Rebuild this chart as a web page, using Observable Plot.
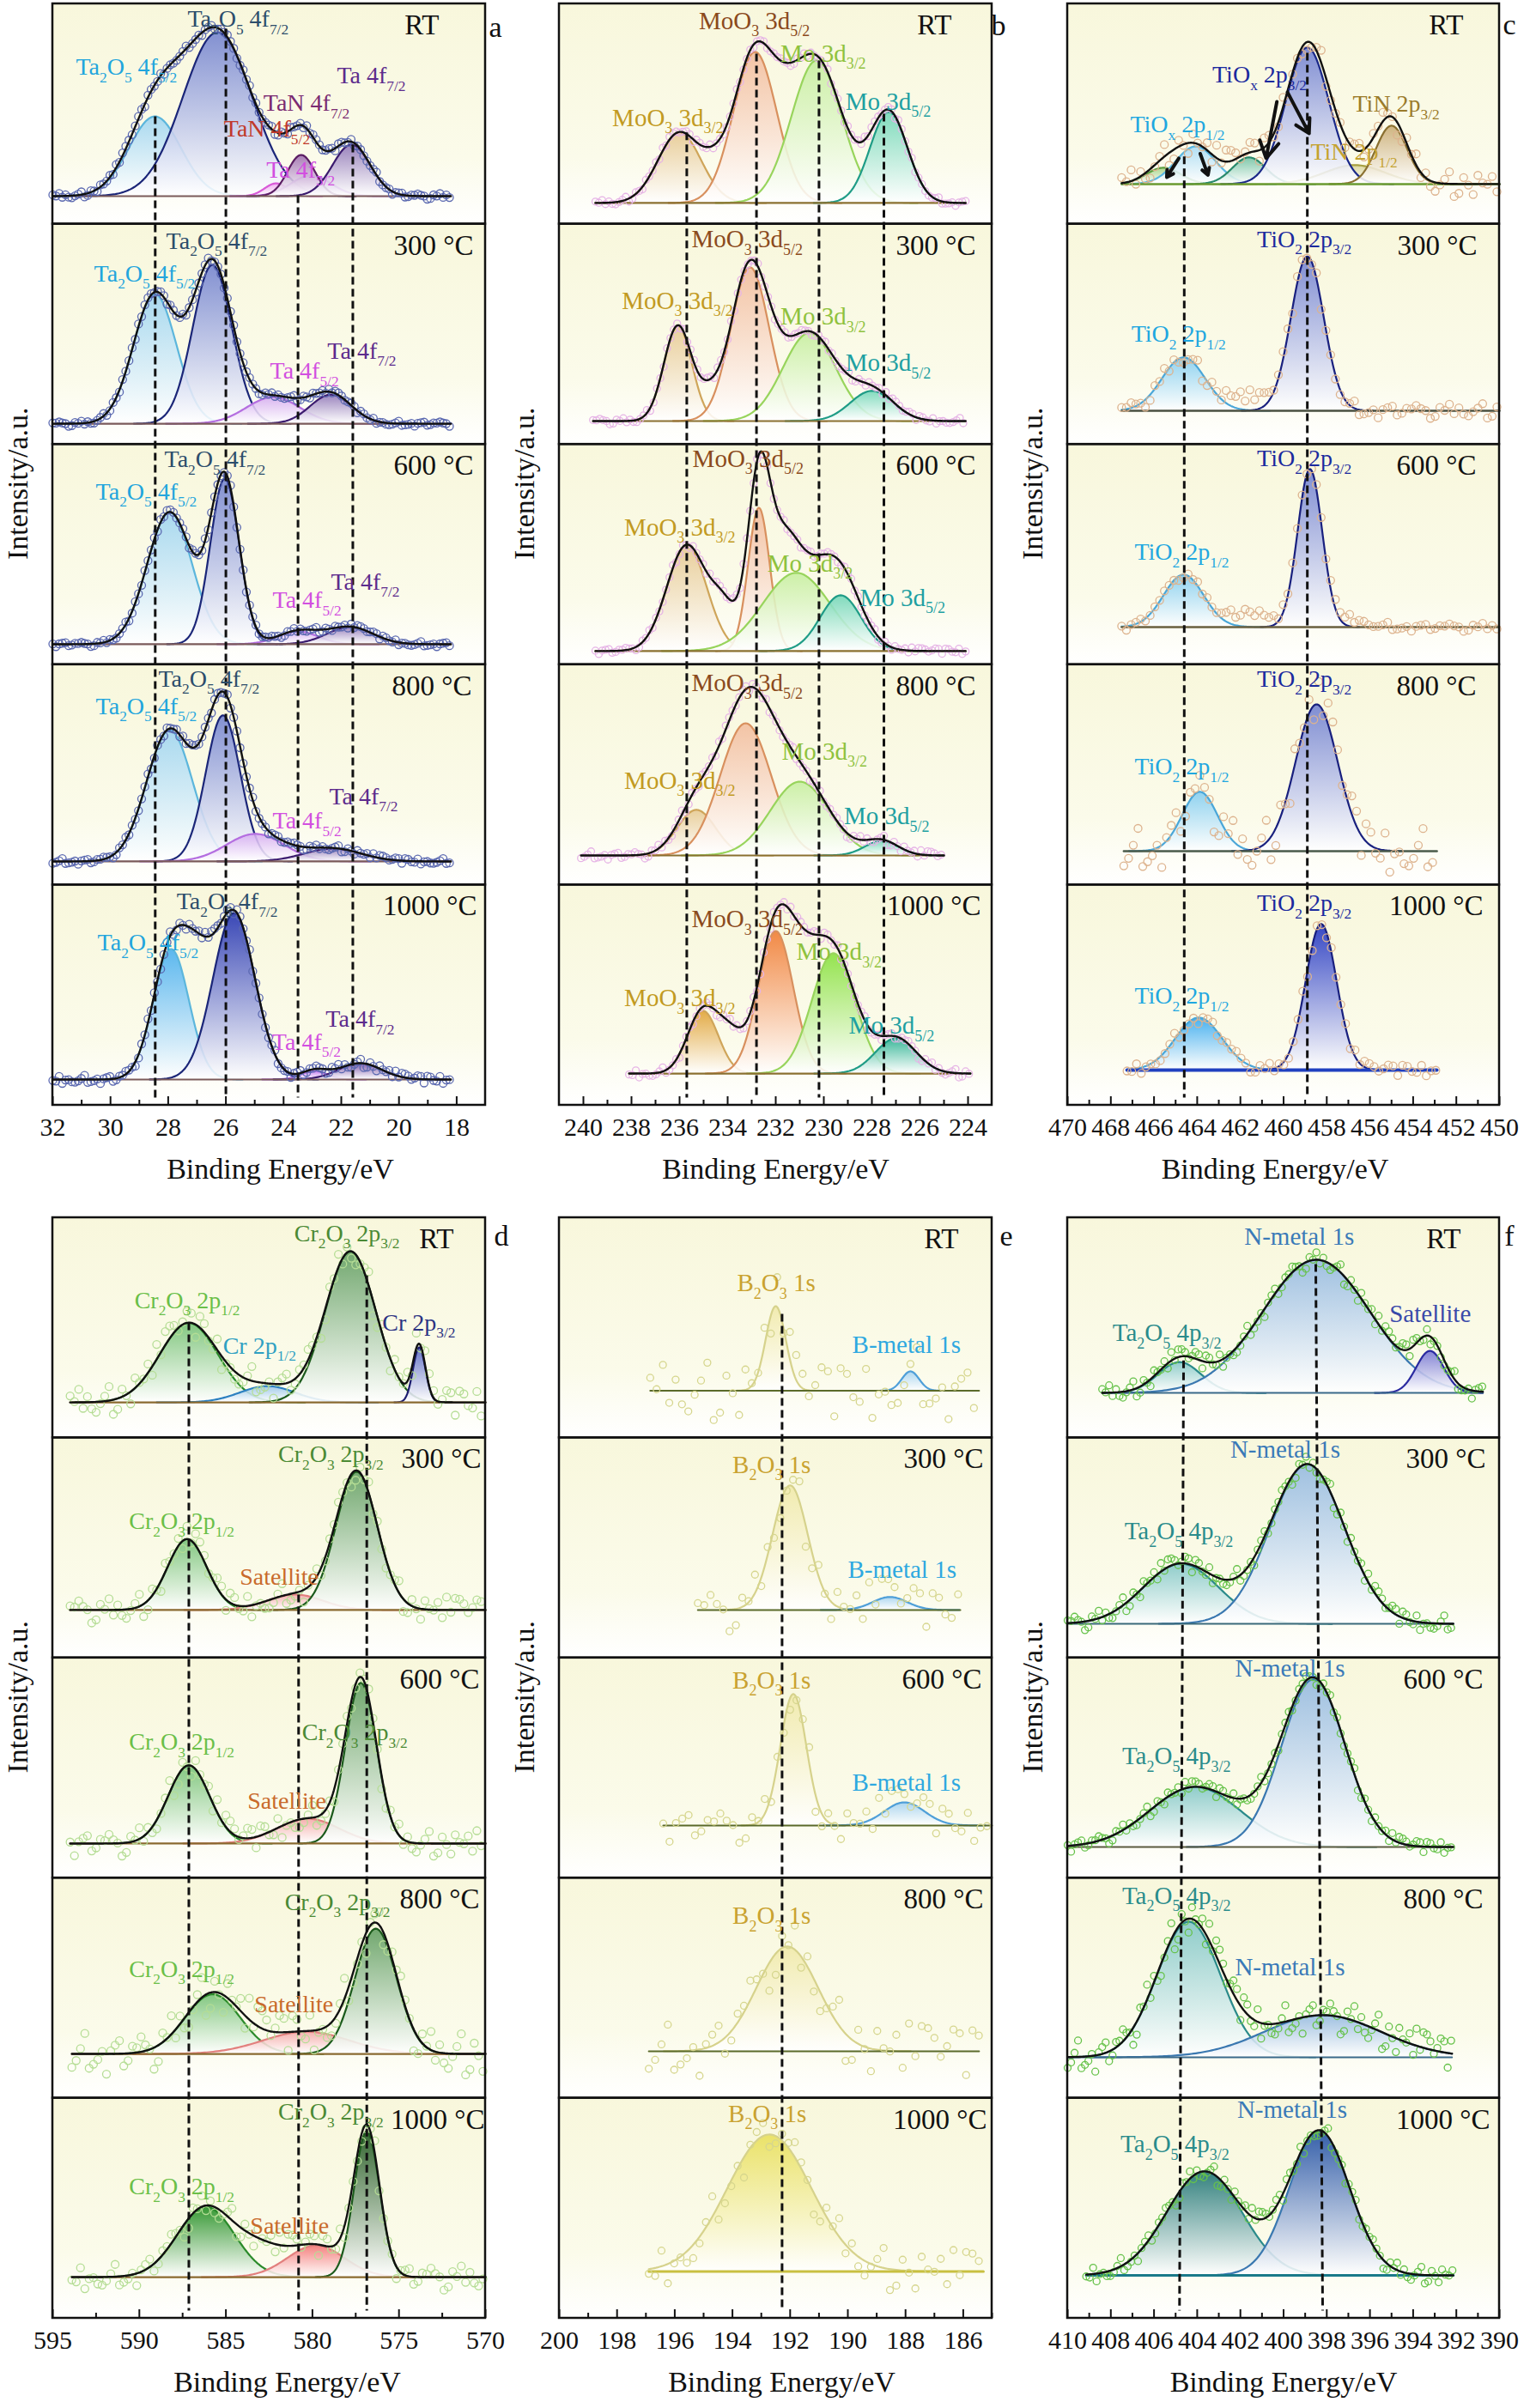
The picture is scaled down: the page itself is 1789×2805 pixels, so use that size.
<!DOCTYPE html>
<html>
<head>
<meta charset="utf-8">
<script src="https://cdn.jsdelivr.net/npm/d3@7"></script>
<script src="https://cdn.jsdelivr.net/npm/@observablehq/plot@0.6"></script>
<style>
html,body{margin:0;padding:0;background:#fff;}
#root{position:relative;width:1789px;height:2805px;overflow:hidden;background:#fff;}
.panel{position:absolute;}
</style>
</head>
<body>
<div id="root"></div>
<script>
const FONT = '"Liberation Serif","Times New Roman",Times,serif';
const temps = ["RT", "300 °C", "600 °C", "800 °C", "1000 °C"];

// ---------- Panel a : Ta 4f ----------
const aTicks = [32, 30, 28, 26, 24, 22, 20, 18];
const aMinor = [31, 29, 27, 25, 23, 21, 19];
const aBases = [0.127, 0.094, 0.093, 0.107, 0.117];
const aRanges = [[32, 18.2], [32, 18.2], [32, 18.2], [32, 18.2], [32, 18.2]];
// [temperature index, component, centre eV, height (fraction of sub-panel), sigma eV]  ("~" = envelope only)
const aPeaks = [
  [0, "Ta2O5 4f5/2", 28.46, 0.362, 0.9],
  [0, "Ta2O5 4f7/2", 26.29, 0.744, 1.2],
  [0, "TaN 4f5/2", 24.26, 0.058, 0.4],
  [0, "Ta 4f5/2", 23.05, 0.094, 0.7],
  [0, "TaN 4f7/2", 23.39, 0.187, 0.47],
  [0, "Ta 4f7/2", 21.65, 0.234, 0.65],
  [1, "Ta2O5 4f5/2", 28.46, 0.588, 0.75],
  [1, "Ta2O5 4f7/2", 26.47, 0.721, 0.68],
  [1, "Ta 4f5/2", 24.36, 0.121, 0.93],
  [1, "Ta 4f7/2", 22.36, 0.132, 0.72],
  [2, "Ta2O5 4f5/2", 27.95, 0.600, 0.78],
  [2, "Ta2O5 4f7/2", 26.04, 0.752, 0.5],
  [2, "Ta 4f5/2", 23.5, 0.058, 0.7],
  [2, "Ta 4f7/2", 21.7, 0.078, 0.8],
  [3, "Ta2O5 4f5/2", 27.95, 0.596, 0.8],
  [3, "Ta2O5 4f7/2", 26.1, 0.663, 0.6],
  [3, "Ta 4f5/2", 24.98, 0.125, 1.0],
  [3, "Ta 4f7/2", 22.3, 0.058, 1.0],
  [4, "Ta2O5 4f5/2", 27.9, 0.592, 0.62],
  [4, "Ta2O5 4f7/2", 25.72, 0.756, 0.73],
  [4, "Ta 4f5/2", 22.94, 0.039, 0.45],
  [4, "Ta 4f7/2", 21.35, 0.074, 0.75],
  [4, "~", 27.0, 0.30, 0.5]
];
// [temperature index, label, eV at label start, height above baseline]
const aLabels = [
  [0, "Ta_2O_5 4f_{7/2}", 27.33, 0.803], [0, "Ta_2O_5 4f_{5/2}", 31.2, 0.585], [0, "Ta 4f_{7/2}", 22.15, 0.546],
  [0, "TaN 4f_{7/2}", 24.7, 0.421], [0, "TaN 4f_{5/2}", 26.07, 0.304], [0, "Ta 4f_{5/2}", 24.6, 0.117],
  [1, "Ta_2O_5 4f_{7/2}", 28.07, 0.83], [1, "Ta_2O_5 4f_{5/2}", 30.57, 0.682], [1, "Ta 4f_{7/2}", 22.48, 0.331], [1, "Ta 4f_{5/2}", 24.47, 0.238],
  [2, "Ta_2O_5 4f_{7/2}", 28.13, 0.838], [2, "Ta_2O_5 4f_{5/2}", 30.51, 0.692], [2, "Ta 4f_{7/2}", 22.36, 0.284], [2, "Ta 4f_{5/2}", 24.38, 0.199],
  [3, "Ta_2O_5 4f_{7/2}", 28.34, 0.828], [3, "Ta_2O_5 4f_{5/2}", 30.51, 0.703], [3, "Ta 4f_{7/2}", 22.42, 0.294], [3, "Ta 4f_{5/2}", 24.38, 0.183],
  [4, "Ta_2O_5 4f_{7/2}", 27.71, 0.807], [4, "Ta_2O_5 4f_{5/2}", 30.45, 0.62], [4, "Ta 4f_{7/2}", 22.54, 0.273], [4, "Ta 4f_{5/2}", 24.4, 0.171]
];
// [eV top, eV bottom, start temperature index, start height]
const aDashes = [[28.45, 28.45, 0, 0.362], [26.0, 26.0, 0, 0.76], [23.5, 23.5, 0, 0.004], [21.6, 21.6, 0, 0.234]];

// ---------- Panel b : Mo 3d ----------
const bTicks = [240, 238, 236, 234, 232, 230, 228, 226, 224];
const bMinor = [239, 237, 235, 233, 231, 229, 227, 225];
const bBases = [0.096, 0.106, 0.062, 0.134, 0.144];
const bRanges = [[239.5, 224.1], [239.6, 224.1], [239.5, 224.1], [240.1, 225.0], [238.1, 223.9]];
const bPeaks = [
  [0, "MoO3 3d3/2", 236.0, 0.32, 0.9],
  [0, "MoO3 3d5/2", 232.86, 0.686, 0.9],
  [0, "Mo 3d3/2", 230.3, 0.647, 1.05],
  [0, "Mo 3d5/2", 227.3, 0.413, 0.78],
  [0, "~", 234.6, 0.06, 0.5],
  [0, "~", 231.5, 0.08, 0.6],
  [1, "MoO3 3d3/2", 236.07, 0.433, 0.58],
  [1, "MoO3 3d5/2", 233.07, 0.698, 0.8],
  [1, "Mo 3d3/2", 230.6, 0.40, 1.1],
  [1, "Mo 3d5/2", 228.0, 0.137, 0.9],
  [1, "~", 234.8, 0.08, 0.45],
  [2, "MoO3 3d3/2", 235.7, 0.48, 0.83],
  [2, "MoO3 3d5/2", 232.7, 0.65, 0.45],
  [2, "Mo 3d3/2", 231.14, 0.355, 1.4],
  [2, "Mo 3d5/2", 229.3, 0.253, 0.85],
  [2, "~", 234.2, 0.14, 0.5],
  [2, "~", 231.7, 0.20, 0.6],
  [3, "MoO3 3d3/2", 235.3, 0.207, 0.8],
  [3, "MoO3 3d5/2", 233.25, 0.60, 1.06],
  [3, "Mo 3d3/2", 231.0, 0.335, 1.23],
  [3, "Mo 3d5/2", 227.6, 0.066, 0.7],
  [3, "~", 232.8, 0.09, 1.2],
  [4, "MoO3 3d3/2", 235.03, 0.285, 0.64],
  [4, "MoO3 3d5/2", 232.0, 0.647, 0.73],
  [4, "Mo 3d3/2", 229.6, 0.546, 0.9],
  [4, "Mo 3d5/2", 227.0, 0.16, 0.85],
  [4, "~", 233.9, 0.15, 0.55],
  [4, "~", 230.9, 0.265, 0.7]
];
const bLabels = [
  [0, "MoO_3 3d_{5/2}", 235.2, 0.826], [0, "MoO_3 3d_{3/2}", 238.8, 0.386], [0, "Mo 3d_{3/2}", 231.8, 0.678], [0, "Mo 3d_{5/2}", 229.1, 0.46],
  [1, "MoO_3 3d_{5/2}", 235.5, 0.826], [1, "MoO_3 3d_{3/2}", 238.4, 0.546], [1, "Mo 3d_{3/2}", 231.8, 0.475], [1, "Mo 3d_{5/2}", 229.1, 0.263],
  [2, "MoO_3 3d_{5/2}", 235.46, 0.873], [2, "MoO_3 3d_{3/2}", 238.3, 0.561], [2, "Mo 3d_{3/2}", 232.35, 0.398], [2, "Mo 3d_{5/2}", 228.5, 0.242],
  [3, "MoO_3 3d_{5/2}", 235.5, 0.783], [3, "MoO_3 3d_{3/2}", 238.3, 0.339], [3, "Mo 3d_{3/2}", 231.75, 0.472], [3, "Mo 3d_{5/2}", 229.16, 0.179],
  [4, "MoO_3 3d_{5/2}", 235.5, 0.701], [4, "MoO_3 3d_{3/2}", 238.3, 0.343], [4, "Mo 3d_{3/2}", 231.14, 0.553], [4, "Mo 3d_{5/2}", 228.96, 0.218]
];
const bDashes = [[235.7, 235.7, 0, 0.32], [232.8, 232.8, 0, 0.678], [230.2, 230.2, 0, 0.647], [227.5, 227.5, 0, 0.405]];

// ---------- Panel c : Ti 2p ----------
const cTicks = [470, 468, 466, 464, 462, 460, 458, 456, 454, 452, 450];
const cMinor = [469, 467, 465, 463, 461, 459, 457, 455, 453, 451];
const cBases = [0.182, 0.153, 0.171, 0.154, 0.16];
const cRanges = [[467.5, 450], [467.5, 450], [467.5, 450], [467.4, 452.9], [467.25, 452.9]];
const cPeaks = [
  [0, "TiOx a", 465.56, 0.074, 0.8],
  [0, "TiOx 2p1/2", 464.07, 0.171, 0.93],
  [0, "TiOx b", 461.6, 0.121, 0.77],
  [0, "TiN 2p1/2", 456.7, 0.086, 1.4],
  [0, "TiOx 2p3/2", 458.9, 0.62, 1.0],
  [0, "TiN 2p3/2", 455.0, 0.265, 0.72],
  [1, "TiO2 2p1/2", 464.63, 0.242, 1.0],
  [1, "TiO2 2p3/2", 458.9, 0.70, 0.76],
  [1, "~", 461.8, 0.06, 0.8],
  [2, "TiO2 2p1/2", 464.63, 0.238, 0.93],
  [2, "TiO2 2p3/2", 458.78, 0.717, 0.57],
  [2, "~", 461.6, 0.07, 0.9],
  [2, "~", 457.0, 0.04, 0.8],
  [3, "TiO2 2p1/2", 463.88, 0.269, 0.82],
  [3, "TiO2 2p3/2", 458.47, 0.666, 0.98],
  [4, "TiO2 2p1/2", 463.93, 0.238, 1.08],
  [4, "TiO2 2p3/2", 458.26, 0.663, 0.72]
];
const cLabels = [
  [0, "TiO_x 2p_{1/2}", 467.1, 0.269], [0, "TiO_x 2p_{3/2}", 463.3, 0.495], [0, "TiN 2p_{3/2}", 456.8, 0.362], [0, "TiN 2p_{1/2}", 458.75, 0.144],
  [1, "TiO_2 2p_{3/2}", 461.23, 0.777], [1, "TiO_2 2p_{1/2}", 467.05, 0.347],
  [2, "TiO_2 2p_{3/2}", 461.23, 0.764], [2, "TiO_2 2p_{1/2}", 466.9, 0.339],
  [3, "TiO_2 2p_{3/2}", 461.23, 0.779], [3, "TiO_2 2p_{1/2}", 466.9, 0.382],
  [4, "TiO_2 2p_{3/2}", 461.23, 0.756], [4, "TiO_2 2p_{1/2}", 466.9, 0.335]
];
// [temperature index, eV tail, height tail, eV head, height head]
const cArrows = [
  [0, 464.85, 0.117, 465.41, 0.031], [0, 463.86, 0.138, 463.5, 0.041],
  [0, 460.31, 0.374, 460.81, 0.117], [0, 459.82, 0.417, 458.82, 0.230]
];
const cDashes = [[464.6, 464.6, 0, 0.125], [458.9, 458.9, 0, 0.596]];

// ---------- Panel d : Cr 2p ----------
const dTicks = [595, 590, 585, 580, 575, 570];
const dMinor = [592.5, 587.5, 582.5, 577.5, 572.5];
const dBases = [0.161, 0.218, 0.157, 0.201, 0.187];
const dRanges = [[594.0, 570], [594.0, 570], [594.0, 570], [593.9, 570], [593.9, 570]];
const dPeaks = [
  [0, "Cr2O3 2p1/2", 587.14, 0.361, 1.68],
  [0, "Cr 2p1/2", 582.6, 0.074, 1.6],
  [0, "Cr2O3 2p3/2", 577.8, 0.686, 1.46],
  [0, "Cr 2p3/2", 573.83, 0.25, 0.36],
  [1, "Cr2O3 2p1/2", 587.24, 0.322, 1.13],
  [1, "Satellite", 581.0, 0.07, 1.6],
  [1, "Cr2O3 2p3/2", 577.45, 0.628, 1.2],
  [2, "Cr2O3 2p1/2", 587.14, 0.355, 1.2],
  [2, "Satellite", 580.26, 0.113, 1.8],
  [2, "Cr2O3 2p3/2", 577.2, 0.73, 0.9],
  [3, "Cr2O3 2p1/2", 585.76, 0.271, 1.6],
  [3, "Satellite", 580.36, 0.101, 2.5],
  [3, "Cr2O3 2p3/2", 576.34, 0.569, 1.2],
  [4, "Cr2O3 2p1/2", 586.15, 0.32, 1.65],
  [4, "Satellite", 579.8, 0.144, 1.65],
  [4, "Cr2O3 2p3/2", 576.86, 0.663, 0.74],
  [4, "~", 583.0, 0.10, 1.3]
];
const dLabels = [
  [0, "Cr_2O_3 2p_{3/2}", 581.05, 0.768], [0, "Cr_2O_3 2p_{1/2}", 590.28, 0.464], [0, "Cr 2p_{1/2}", 585.17, 0.257], [0, "Cr 2p_{3/2}", 575.96, 0.363],
  [1, "Cr_2O_3 2p_{3/2}", 581.98, 0.706], [1, "Cr_2O_3 2p_{1/2}", 590.6, 0.402], [1, "Satellite", 584.2, 0.148],
  [2, "Cr_2O_3 2p_{3/2}", 580.6, 0.503], [2, "Cr_2O_3 2p_{1/2}", 590.6, 0.46], [2, "Satellite", 583.75, 0.191],
  [3, "Cr_2O_3 2p_{3/2}", 581.6, 0.69], [3, "Cr_2O_3 2p_{1/2}", 590.6, 0.386], [3, "Satellite", 583.35, 0.226],
  [4, "Cr_2O_3 2p_{3/2}", 581.98, 0.749], [4, "Cr_2O_3 2p_{1/2}", 590.6, 0.41], [4, "Satellite", 583.6, 0.234]
];
const dDashes = [[587.14, 587.14, 0, 0.363], [576.86, 576.86, 0, 0.577], [580.8, 580.8, 1, 0.07]];

// ---------- Panel e : B 1s ----------
const eTicks = [200, 198, 196, 194, 192, 190, 188, 186];
const eMinor = [199, 197, 195, 193, 191, 189, 187, 185];
const eBases = [0.214, 0.218, 0.239, 0.213, 0.213];
const eRanges = [[196.85, 185.45], [195.2, 186.1], [196.4, 185.0], [196.9, 185.45], [196.9, 185.3]];
const ePeaks = [
  [0, "B2O3 1s", 192.5, 0.384, 0.35], [0, "B-metal 1s", 187.83, 0.088, 0.3],
  [1, "B2O3 1s", 192.0, 0.566, 0.61], [1, "B-metal 1s", 188.54, 0.059, 0.6],
  [2, "B2O3 1s", 191.89, 0.597, 0.45], [2, "B-metal 1s", 188.04, 0.105, 0.7],
  [3, "B2O3 1s", 192.1, 0.476, 1.07],
  [4, "B2O3 1s", 192.72, 0.622, 1.46]
];
const eLabels = [
  [0, "B_2O_3 1s", 193.84, 0.489], [0, "B-metal 1s", 189.85, 0.209],
  [1, "B_2O_3 1s", 194.0, 0.659], [1, "B-metal 1s", 190.0, 0.183],
  [2, "B_2O_3 1s", 194.0, 0.659], [2, "B-metal 1s", 189.85, 0.195],
  [3, "B_2O_3 1s", 194.0, 0.616],
  [4, "B_2O_3 1s", 194.15, 0.716]
];
const eDashes = [[192.28, 192.28, 0, 0.349]];

// ---------- Panel f : N 1s ----------
const fTicks = [410, 408, 406, 404, 402, 400, 398, 396, 394, 392, 390];
const fMinor = [409, 407, 405, 403, 401, 399, 397, 395, 393, 391];
const fBases = [0.204, 0.155, 0.141, 0.186, 0.195];
const fRanges = [[408.4, 390.77], [410, 392.14], [410, 392.14], [410, 392.2], [409.14, 392.14]];
const fPeaks = [
  [0, "Ta2O5 4p3/2", 404.82, 0.14, 1.0], [0, "N-metal 1s", 398.48, 0.605, 2.5], [0, "Satellite", 393.22, 0.191, 0.64],
  [1, "Ta2O5 4p3/2", 404.75, 0.273, 1.75], [1, "N-metal 1s", 398.9, 0.725, 1.72],
  [2, "Ta2O5 4p3/2", 404.1, 0.273, 2.1], [2, "N-metal 1s", 398.62, 0.762, 1.47],
  [3, "Ta2O5 4p3/2", 404.39, 0.616, 1.47], [3, "N-metal 1s", 398.19, 0.191, 2.7],
  [4, "Ta2O5 4p3/2", 403.67, 0.472, 1.75], [4, "N-metal 1s", 398.34, 0.655, 1.4]
];
const fLabels = [
  [0, "N-metal 1s", 401.82, 0.71], [0, "Ta_2O_5 4p_{3/2}", 407.92, 0.273], [0, "Satellite", 395.1, 0.359],
  [1, "N-metal 1s", 402.47, 0.79], [1, "Ta_2O_5 4p_{3/2}", 407.37, 0.419],
  [2, "N-metal 1s", 402.25, 0.811], [2, "Ta_2O_5 4p_{3/2}", 407.48, 0.413],
  [3, "Ta_2O_5 4p_{3/2}", 407.48, 0.733], [3, "N-metal 1s", 402.25, 0.408],
  [4, "N-metal 1s", 402.15, 0.753], [4, "Ta_2O_5 4p_{3/2}", 407.55, 0.595]
];
const fDashes = [[404.63, 404.82, 0, 0.148], [398.51, 398.19, 0, 0.585]];

// hand-typed scatter residuals (measurement noise around the fit envelope)
const residuals = [0.42, -0.65, 0.18, 0.91, -0.33, -0.88, 0.57, 0.05, -0.47, 0.76, -0.95, 0.31, -0.12, -0.58, 0.84, -0.26, 0.63, -0.71, 0.22, -0.04,
  0.97, -0.39, 0.11, -0.83, 0.49, 0.68, -0.52, -0.17, 0.36, -0.92, 0.73, -0.08, 0.27, -0.61, 0.88, -0.44, 0.14, 0.55, -0.79, 0.02,
  -0.3, 0.81, -0.67, 0.39, -0.21, 0.66, -0.98, 0.24, 0.47, -0.13, 0.59, -0.36, 0.08, -0.74, 0.93, -0.19, 0.33, -0.56, 0.71, -0.02];

// ---------- styles ----------
const aColors = {
  "Ta2O5 4f5/2": {line: "#5cb6dc", fill: "#9dd4f0", strong: "#45aef0", label: "#22a5dd"},
  "Ta2O5 4f7/2": {line: "#1b2678", fill: "#7282cf", strong: "#1f2fb0", label: "#2c4d6b"},
  "TaN 4f5/2": {line: "#d85ad8", fill: "#eea0ee", label: "#c0392b"},
  "Ta 4f5/2": {line: "#b46ee0", fill: "#d4aaf0", strong: "#c070f0", label: "#d24fe0"},
  "TaN 4f7/2": {line: "#5a1d62", fill: "#9c6aae", label: "#7a2b72"},
  "Ta 4f7/2": {line: "#3b1b6e", fill: "#8c72b6", strong: "#6a40a0", label: "#5d2b8d"}
};
const bColors = {
  "MoO3 3d3/2": {line: "#cfa55a", fill: "#e6c890", strong: "#dfa030", label: "#c29a22"},
  "MoO3 3d5/2": {line: "#d8905e", fill: "#f2bc9c", strong: "#f07a30", label: "#8b4a1c"},
  "Mo 3d3/2": {line: "#98d45c", fill: "#c6ee9e", strong: "#86e03a", label: "#8fc23e"},
  "Mo 3d5/2": {line: "#1f9c86", fill: "#6fd6b6", strong: "#1fae8e", label: "#1ea0a2"}
};
const cColors = {
  "TiOx a": {line: "#5b9e3e", fill: "#9fd07e"},
  "TiOx 2p1/2": {line: "#58b6e0", fill: "#a6daf4", label: "#1fa7e0"},
  "TiOx b": {line: "#2a8a6c", fill: "#6cc0a0"},
  "TiN 2p1/2": {line: "#a8a040", fill: "#d8d292", label: "#c4a230"},
  "TiOx 2p3/2": {line: "#1a2888", fill: "#6e7ed0", label: "#1b2a9e"},
  "TiN 2p3/2": {line: "#8a7030", fill: "#c8aa70", label: "#9b7b2a"},
  "TiO2 2p1/2": {line: "#4aa6d8", fill: "#80ccf0", strong: "#2ea6f0", label: "#1fa7e0"},
  "TiO2 2p3/2": {line: "#19207e", fill: "#6e7ed0", strong: "#1a2ec0", label: "#1b2a9e"}
};
const dColors = {
  "Cr2O3 2p1/2": {line: "#2a8a2a", fill: "#72c072", strong: "#1a8a1a", label: "#6abf48"},
  "Cr 2p1/2": {line: "#2c80c0", fill: "#92c2e8", label: "#2fa0c2"},
  "Cr2O3 2p3/2": {line: "#1b5a1b", fill: "#5e9c5e", strong: "#165016", label: "#4b8a34"},
  "Cr 2p3/2": {line: "#1b1b6e", fill: "#5262c2", label: "#2b3282"},
  "Satellite": {line: "#e2807e", fill: "#f4a4a4", strong: "#f47070", label: "#c96a2b"}
};
const eColors = {
  "B2O3 1s": {line: "#d6d28c", fill: "#f0e9a8", strong: "#e8df58", label: "#c9a230"},
  "B-metal 1s": {line: "#4f9fd8", fill: "#a0d0f0", label: "#2ea8e0"}
};
const fColors = {
  "Ta2O5 4p3/2": {line: "#2a8a8a", fill: "#80c6c6", strong: "#177070", label: "#2a8c8c"},
  "N-metal 1s": {line: "#3a78b0", fill: "#92b8e0", strong: "#1a4aa2", label: "#3a7ab8"},
  "Satellite": {line: "#2a2aa0", fill: "#7272d2", label: "#3a4aaa"}
};

// ---------- shared gradient defs ----------
const NS = "http://www.w3.org/2000/svg";
const root = document.getElementById("root");
const defsSvg = d3.select(root).append("svg").attr("width", 0).attr("height", 0)
  .style("position", "absolute").style("left", 0).style("top", 0);
const defs = defsSvg.append("defs");
const bg = defs.append("linearGradient").attr("id", "bgGrad").attr("x1", 0).attr("y1", 0).attr("x2", 0).attr("y2", 1);
bg.append("stop").attr("offset", 0).attr("stop-color", "#f8f7dc");
bg.append("stop").attr("offset", 0.7).attr("stop-color", "#fbfbea");
bg.append("stop").attr("offset", 1).attr("stop-color", "#ffffff");
function addGrad(id, color) {
  const g = defs.append("linearGradient").attr("id", id).attr("x1", 0).attr("y1", 0).attr("x2", 0).attr("y2", 1);
  g.append("stop").attr("offset", 0).attr("stop-color", color);
  g.append("stop").attr("offset", 1).attr("stop-color", "#ffffff");
}

function richText(svg, size) {
  svg.querySelectorAll("text").forEach(t => {
    const s = t.textContent;
    if (!s.includes("_")) return;
    const parts = [];
    let i = 0, buf = "";
    while (i < s.length) {
      if (s[i] === "_") {
        if (buf) { parts.push({txt: buf, sub: false}); buf = ""; }
        if (s[i + 1] === "{") { const j = s.indexOf("}", i + 2); parts.push({txt: s.slice(i + 2, j), sub: true}); i = j + 1; }
        else { parts.push({txt: s[i + 1], sub: true}); i += 2; }
      } else { buf += s[i]; i++; }
    }
    if (buf) parts.push({txt: buf, sub: false});
    while (t.firstChild) t.removeChild(t.firstChild);
    const shift = size * 0.3, subSize = size * 0.62;
    let inSub = false;
    parts.forEach(p => {
      const ts = document.createElementNS(NS, "tspan");
      if (p.sub) { ts.setAttribute("font-size", subSize); if (!inSub) ts.setAttribute("dy", shift); inSub = true; }
      else if (inSub) { ts.setAttribute("dy", -shift); inSub = false; }
      ts.textContent = p.txt;
      t.appendChild(ts);
    });
  });
}

const gauss = (x, c, h, s) => h * Math.exp(-((x - c) ** 2) / (2 * s * s));

function panel(P) {
  const yOf = (t, v) => (4 - t) + P.bases[t] + v;
  const envAt = (t, x) => d3.sum(P.peaks.filter(p => p[0] === t), p => gauss(x, p[2], p[3], p[4]));
  const subs = [0, 1, 2, 3, 4];
  const px = 1 / (P.plotH / 5);
  const marks = [];
  marks.push(Plot.rect(subs, {x1: () => P.domain[0], x2: () => P.domain[1], y1: t => 4 - t, y2: t => 5 - t, fill: "url(#bgGrad)"}));
  // components
  P.peaks.forEach((p, i) => {
    const [t, comp, c, h, s] = p;
    if (comp === "~") return;
    const st = P.colors[comp];
    const r = P.ranges[t];
    const rmin = Math.min(r[0], r[1]), rmax = Math.max(r[0], r[1]);
    const lo = Math.max(rmin, c - 4 * s), hi = Math.min(rmax, c + 4 * s);
    const pts = d3.range(161).map(k => {
      const x = lo + (hi - lo) * k / 160;
      return {x, y1: yOf(t, 0), y2: yOf(t, gauss(x, c, h, s))};
    });
    const gid = `${P.id}g${i}`;
    addGrad(gid, t === 4 && st.strong ? st.strong : st.fill);
    marks.push(Plot.areaY(pts, {x: "x", y1: "y1", y2: "y2", fill: `url(#${gid})`, fillOpacity: 0.88}));
    marks.push(Plot.line(pts, {x: "x", y: "y2", stroke: st.line, strokeWidth: 2.2}));
  });
  // baselines
  subs.forEach(t => {
    const r = P.ranges[t];
    const col = Array.isArray(P.baseColor) ? P.baseColor[t] : P.baseColor;
    const w = Array.isArray(P.baseWidth) ? P.baseWidth[t] : P.baseWidth;
    marks.push(Plot.line([r[0], r[1]], {x: d => d, y: () => yOf(t, 0), stroke: col, strokeWidth: w}));
  });
  // scatter (data points)
  subs.forEach(t => {
    const r = P.ranges[t];
    const rmin = Math.min(r[0], r[1]), rmax = Math.max(r[0], r[1]);
    const xs = d3.range(rmax, rmin, -P.dotStep);
    const pts = xs.map((x, k) => ({x, y: yOf(t, envAt(t, x) + P.noise[t] * residuals[(k * 7 + t * 11) % residuals.length])}));
    marks.push(Plot.dot(pts, {x: "x", y: "y", r: P.dotR, stroke: P.dotColor, strokeWidth: 1.3, fill: "none"}));
  });
  // envelopes
  subs.forEach(t => {
    if (!P.envelope[t]) return;
    const r = P.ranges[t];
    const pts = d3.range(401).map(k => { const x = r[0] + (r[1] - r[0]) * k / 400; return {x, y: yOf(t, envAt(t, x))}; });
    marks.push(Plot.line(pts, {x: "x", y: "y", stroke: "#111", strokeWidth: 2.4}));
  });
  // dashed guide lines
  marks.push(Plot.link(P.dashes, {x1: d => d[0], x2: d => d[1], y1: d => yOf(d[2], d[3]), y2: () => 9 * px,
    stroke: "#111", strokeWidth: 3, strokeDasharray: "9,5"}));
  if (P.arrows) {
    marks.push(Plot.arrow(P.arrows, {x1: d => d[1], y1: d => yOf(d[0], d[2]), x2: d => d[3], y2: d => yOf(d[0], d[4]),
      stroke: "#111", strokeWidth: 4, headLength: 12, bend: 0}));
  }
  // peak labels
  const key = s => s.replace(/[_{}]/g, "");
  marks.push(Plot.text(P.labels, {x: d => d[2], y: d => yOf(d[0], d[3]), text: d => d[1],
    fill: d => P.colors[key(d[1])].label, textAnchor: "start", lineAnchor: "middle", fontSize: P.labelSize}));
  // temperature labels
  subs.forEach(t => {
    marks.push(Plot.text([t], {y: () => 5 - t, text: () => temps[t], frameAnchor: "right", dx: P.tempDx[t], dy: 25,
      textAnchor: "end", lineAnchor: "middle", fontSize: 33, fill: "#111"}));
  });
  // frames
  marks.push(Plot.rect(subs, {x1: () => P.domain[0], x2: () => P.domain[1], y1: t => 4 - t, y2: t => 5 - t,
    fill: "none", stroke: "#111", strokeWidth: 2.5}));
  // ticks
  marks.push(Plot.ruleX(P.ticks, {x: d => d, y1: () => 0, y2: () => 10 * px, stroke: "#111", strokeWidth: 2}));
  marks.push(Plot.ruleX(P.minor, {x: d => d, y1: () => 0, y2: () => 6 * px, stroke: "#111", strokeWidth: 2}));
  marks.push(Plot.text(P.ticks, {x: d => d, text: d => String(d), frameAnchor: "bottom", dy: 26, lineAnchor: "middle", fontSize: 30, fill: "#111"}));
  marks.push(Plot.text([0], {text: () => "Binding Energy/eV", frameAnchor: "bottom", dx: P.titleDx, dy: 75, lineAnchor: "middle", fontSize: 34, fill: "#111"}));
  marks.push(Plot.text([0], {text: () => "Intensity/a.u.", frameAnchor: "left", rotate: -90, dx: -40, dy: 6, lineAnchor: "middle", fontSize: 34, fill: "#111"}));
  marks.push(Plot.text([0], {text: () => P.letter, frameAnchor: "top-right", dx: P.letterDx, dy: P.letterDy, lineAnchor: "middle", fontSize: 34, fill: "#111"}));

  const svg = Plot.plot({
    width: P.svgW, height: P.svgH,
    marginLeft: P.mL, marginRight: P.svgW - P.mL - P.plotW, marginTop: P.mT, marginBottom: P.svgH - P.mT - P.plotH,
    x: {domain: P.domain, axis: null},
    y: {domain: [0, 5], axis: null},
    color: {type: "identity"},
    style: {fontFamily: FONT, background: "none", overflow: "visible"},
    marks
  });
  richText(svg, P.labelSize);
  const div = document.createElement("div");
  div.className = "panel";
  div.style.left = P.left + "px";
  div.style.top = P.top + "px";
  div.appendChild(svg);
  root.appendChild(div);
}

const row1 = {top: 0, svgH: 1400, mT: 4, plotH: 1283};
const row2 = {top: 1400, svgH: 1405, mT: 18, plotH: 1282};
const col1 = {left: 0, svgW: 610, mL: 61, plotW: 504};
const col2 = {left: 600, svgW: 600, mL: 51, plotW: 504};
const col3 = {left: 1180, svgW: 609, mL: 63, plotW: 503};

panel({...row1, ...col1, id: "a", letter: "a", domain: [32, 17], ticks: aTicks, minor: aMinor, bases: aBases, ranges: aRanges,
  peaks: aPeaks, labels: aLabels, dashes: aDashes, colors: aColors, labelSize: 28, envelope: [true, true, true, true, true],
  baseColor: "#7a5a5a", baseWidth: 2.2, dotStep: 0.11, dotR: 4.5, dotColor: "#5a68b0", noise: [0.014, 0.012, 0.012, 0.014, 0.02],
  tempDx: [-54, -14, -14, -16, -10], titleDx: 13, letterDx: 19, letterDy: 28});
panel({...row1, ...col2, id: "b", letter: "b", domain: [241, 223], ticks: bTicks, minor: bMinor, bases: bBases, ranges: bRanges,
  peaks: bPeaks, labels: bLabels, dashes: bDashes, colors: bColors, labelSize: 29, envelope: [true, true, true, true, true],
  baseColor: "#8a7030", baseWidth: 2.2, dotStep: 0.14, dotR: 4, dotColor: "#e6b4e6", noise: [0.015, 0.015, 0.015, 0.02, 0.02],
  tempDx: [-47, -19, -19, -19, -13], titleDx: 0, letterDx: 16, letterDy: 26});
panel({...row1, ...col3, id: "c", letter: "c", domain: [470, 450], ticks: cTicks, minor: cMinor, bases: cBases, ranges: cRanges,
  peaks: cPeaks, labels: cLabels, dashes: cDashes, arrows: cArrows, colors: cColors, labelSize: 28, envelope: [true, false, false, false, false],
  baseColor: ["#6a9a30", "#4a5040", "#6a6040", "#4a5a4a", "#2040c0"], baseWidth: [2.5, 2.5, 2.5, 2.5, 4], dotStep: 0.22, dotR: 4.5,
  dotColor: "#ddb38e", noise: [0.06, 0.035, 0.02, 0.11, 0.03],
  tempDx: [-42, -26, -27, -27, -19], titleDx: -10, letterDx: 19, letterDy: 25});
panel({...row2, ...col1, id: "d", letter: "d", domain: [595, 570], ticks: dTicks, minor: dMinor, bases: dBases, ranges: dRanges,
  peaks: dPeaks, labels: dLabels, dashes: dDashes, colors: dColors, labelSize: 28, envelope: [true, true, true, true, true],
  baseColor: "#8a6a30", baseWidth: 2.2, dotStep: 0.25, dotR: 4.5, dotColor: "#b5dd95", noise: [0.07, 0.06, 0.06, 0.1, 0.06],
  tempDx: [-37, -5, -7, -7, -1], titleDx: 21, letterDx: 27, letterDy: 22});
panel({...row2, ...col2, id: "e", letter: "e", domain: [200, 185], ticks: eTicks, minor: eMinor, bases: eBases, ranges: eRanges,
  peaks: ePeaks, labels: eLabels, dashes: eDashes, colors: eColors, labelSize: 29, envelope: [false, false, false, false, false],
  baseColor: ["#5a6a2a", "#5a6a2a", "#5a6a2a", "#5a6a2a", "#c8c040"], baseWidth: [2, 2, 2, 2, 3], dotStep: 0.22, dotR: 4, dotColor: "#d6d68e",
  noise: [0.14, 0.1, 0.08, 0.13, 0.1],
  tempDx: [-39, -10, -12, -10, -6], titleDx: 7, letterDx: 24, letterDy: 22});
panel({...row2, ...col3, id: "f", letter: "f", domain: [410, 390], ticks: fTicks, minor: fMinor, bases: fBases, ranges: fRanges,
  peaks: fPeaks, labels: fLabels, dashes: fDashes, colors: fColors, labelSize: 29, envelope: [true, true, true, true, true],
  baseColor: ["#3a6a8a", "#3a6a7a", "#5a5a40", "#3a6a8a", "#1a7a8a"], baseWidth: [2, 2, 2, 2, 3], dotStep: 0.16, dotR: 4, dotColor: "#66c24a",
  noise: [0.04, 0.04, 0.03, 0.08, 0.04],
  tempDx: [-45, -16, -19, -19, -11], titleDx: 0, letterDx: 17, letterDy: 22});
</script>
</body>
</html>
